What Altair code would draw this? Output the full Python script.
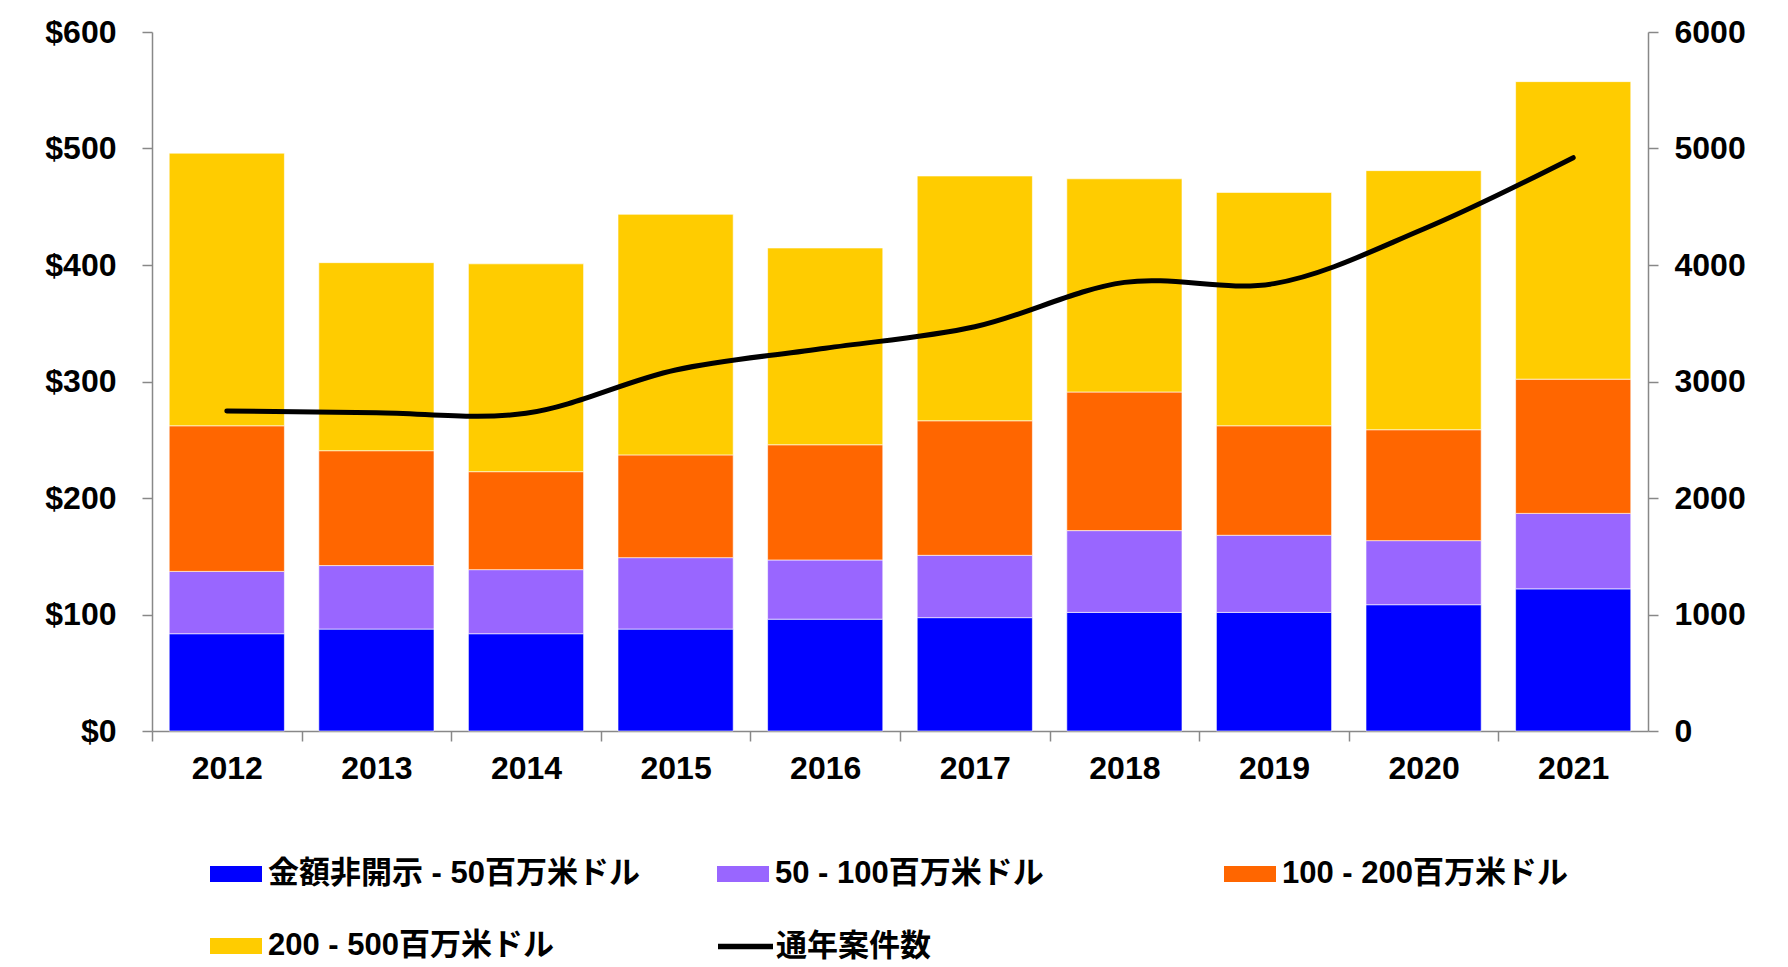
import altair as alt
import pandas as pd

years = ["2012", "2013", "2014", "2015", "2016", "2017", "2018", "2019", "2020", "2021"]
series_names = ["金額非開示 - 50百万米ドル", "50 - 100百万米ドル", "100 - 200百万米ドル", "200 - 500百万米ドル"]
line_name = "通年案件数"

v_under50 = [83.5, 87.5, 83.5, 87.5, 96.0, 97.3, 101.8, 101.8, 108.4, 122.0]
v_50_100 = [53.5, 54.5, 55.0, 61.3, 50.8, 53.5, 70.2, 66.2, 55.0, 64.8]
v_100_200 = [125.0, 98.6, 84.1, 88.2, 98.9, 115.5, 119.0, 94.0, 95.2, 115.2]
v_200_500 = [234.0, 161.4, 178.4, 206.5, 168.9, 210.1, 183.0, 200.3, 222.4, 255.4]
deal_count = [2747, 2732, 2727, 3099, 3285, 3470, 3851, 3840, 4309, 4921]

bar_colors = ["#0000FF", "#9966FF", "#FF6600", "#FFCC00"]
line_color = "#000000"

rows = []
for si, (name, vals) in enumerate(zip(series_names, [v_under50, v_50_100, v_100_200, v_200_500])):
    for y, v in zip(years, vals):
        rows.append({"year": y, "series": name, "value": v, "order": si})
bars_df = pd.DataFrame(rows)
line_df = pd.DataFrame({"year": years, "count": deal_count, "series": line_name})

font_latin = "Liberation Sans"
font_mixed = "Liberation Sans, 'Noto Sans CJK JP'"

bar_legend = alt.Legend(
    title=None,
    orient="none",
    legendX=58,
    legendY=816,
    direction="horizontal",
    columns=3,
    gridAlign="all",
    columnPadding=76,
    rowPadding=31,
    symbolSize=2704,
    symbolType="M-1,-0.31H1V0.31H-1Z",
    symbolStrokeWidth=0,
    symbolOpacity=1,
    labelFont=font_mixed,
    labelFontSize=31,
    labelFontWeight="bold",
    labelColor="#000000",
    labelOffset=6,
    labelLimit=600,
)

line_legend = alt.Legend(
    title=None,
    orient="none",
    legendX=563,
    legendY=884,
    symbolSize=3025,
    symbolType="stroke",
    symbolStrokeWidth=5.5,
    symbolOpacity=1,
    labelFont=font_mixed,
    labelFontSize=31,
    labelFontWeight="bold",
    labelColor="#000000",
    labelOffset=0,
    labelLimit=600,
)

x_enc = alt.X(
    "year:N",
    sort=years,
    scale=alt.Scale(paddingInner=0.23, paddingOuter=0.115),
    axis=alt.Axis(
        title=None,
        labelAngle=0,
        tickOffset=-74.8,
        labelOffset=74.8,
        tickSize=10,
        tickColor="#888888",
        domainColor="#888888",
        domainWidth=1.5,
        tickWidth=1.5,
        labelPadding=12,
        labelFont=font_latin,
        labelFontSize=32,
        labelFontWeight="bold",
        labelColor="#000000",
        grid=False,
    ),
)

bars = alt.Chart(bars_df).mark_bar(stroke="#ffffff", strokeWidth=0.6).encode(
    x=x_enc,
    y=alt.Y(
        "value:Q",
        stack="zero",
        scale=alt.Scale(domain=[0, 600], nice=False),
        axis=alt.Axis(
            title=None,
            values=[0, 100, 200, 300, 400, 500, 600],
            labelExpr="'$' + datum.value",
            tickSize=10,
            tickColor="#888888",
            domainColor="#888888",
            domainWidth=1.5,
            tickWidth=1.5,
            labelPadding=26,
            labelFont=font_latin,
            labelFontSize=32,
            labelFontWeight="bold",
            labelColor="#000000",
            grid=False,
        ),
    ),
    color=alt.Color("series:N", scale=alt.Scale(domain=series_names, range=bar_colors), legend=bar_legend),
    order=alt.Order("order:Q", sort="ascending"),
)

line = alt.Chart(line_df).mark_line(
    strokeWidth=5, strokeCap="round", interpolate="catmull-rom"
).encode(
    x=x_enc,
    y=alt.Y(
        "count:Q",
        scale=alt.Scale(domain=[0, 6000], nice=False),
        axis=alt.Axis(
            title=None,
            orient="right",
            values=[0, 1000, 2000, 3000, 4000, 5000, 6000],
            format="d",
            tickSize=10,
            tickColor="#888888",
            domainColor="#888888",
            domainWidth=1.5,
            tickWidth=1.5,
            labelPadding=16,
            labelFont=font_latin,
            labelFontSize=32,
            labelFontWeight="bold",
            labelColor="#000000",
            grid=False,
        ),
    ),
    stroke=alt.Stroke("series:N", scale=alt.Scale(domain=[line_name], range=[line_color]), legend=line_legend),
)

chart = (
    alt.layer(bars, line)
    .resolve_scale(y="independent")
    .properties(
        width=1496,
        height=699,
        autosize=alt.AutoSizeParams(type="none"),
        padding={"left": 144, "top": 24, "right": 110, "bottom": 236},
        background="#ffffff",
    )
    .configure_view(stroke=None)
)

chart.save("out.html", embed_options={"renderer": "svg", "actions": False})
